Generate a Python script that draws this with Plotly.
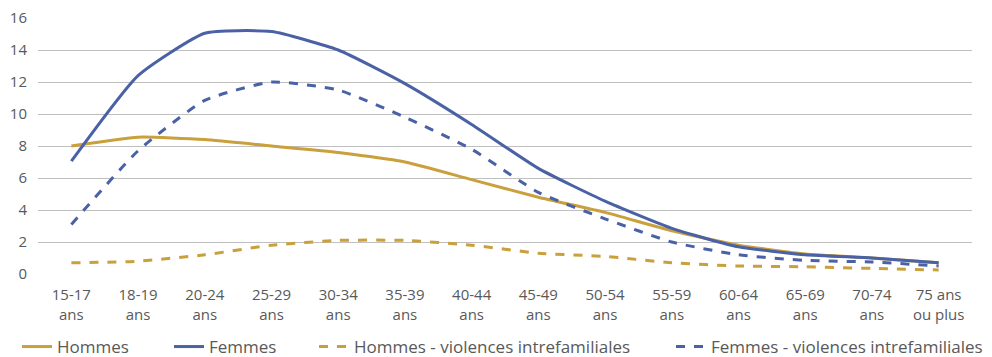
import plotly.graph_objects as go

categories = ["15-17<br>ans", "18-19<br>ans", "20-24<br>ans", "25-29<br>ans", "30-34<br>ans",
              "35-39<br>ans", "40-44<br>ans", "45-49<br>ans", "50-54<br>ans", "55-59<br>ans",
              "60-64<br>ans", "65-69<br>ans", "70-74<br>ans", "75 ans<br>ou plus"]

hommes = [8.0, 8.55, 8.4, 8.0, 7.6, 7.0, 5.9, 4.8, 3.85, 2.7, 1.8, 1.25, 1.0, 0.7]
femmes = [7.05, 12.4, 15.05, 15.15, 14.0, 11.9, 9.35, 6.6, 4.55, 2.85, 1.7, 1.2, 1.0, 0.7]
hommes_vi = [0.7, 0.8, 1.2, 1.8, 2.1, 2.1, 1.8, 1.3, 1.1, 0.7, 0.5, 0.45, 0.35, 0.25]
femmes_vi = [3.1, 7.7, 10.85, 12.0, 11.5, 9.8, 7.8, 5.1, 3.45, 2.0, 1.2, 0.85, 0.75, 0.5]

GOLD = "#C9A03C"
BLUE = "#4A62A5"

series = [
    ("Hommes", hommes, GOLD, "solid", "legend"),
    ("Femmes", femmes, BLUE, "solid", "legend2"),
    ("Hommes - violences intrefamiliales", hommes_vi, GOLD, "dash", "legend3"),
    ("Femmes - violences intrefamiliales", femmes_vi, BLUE, "dash", "legend4"),
]

fig = go.Figure()
for name, vals, color, dash, leg in series:
    fig.add_trace(go.Scatter(
        x=categories, y=vals, name=name, mode="lines", legend=leg,
        line=dict(color=color, width=3, dash=dash, shape="spline", smoothing=0.5),
    ))

W, H = 984, 349
legend_x = [9, 161, 306, 663]
legend_common = dict(orientation="h", xref="container", yref="container",
                     xanchor="left", y=10 / H, yanchor="middle",
                     font=dict(size=17, color="#595959"), bgcolor="rgba(0,0,0,0)")

fig.update_layout(
    width=W, height=H,
    margin=dict(l=30, r=20, t=10, b=83),
    plot_bgcolor="white", paper_bgcolor="white",
    font=dict(family="Open Sans", size=15, color="#595959"),
    showlegend=True,
    legend=dict(x=legend_x[0] / W, **legend_common),
    legend2=dict(x=legend_x[1] / W, **legend_common),
    legend3=dict(x=legend_x[2] / W, **legend_common),
    legend4=dict(x=legend_x[3] / W, **legend_common),
    xaxis=dict(showgrid=False, showline=False, ticks="", tickfont=dict(size=15),
               range=[-0.5, 13.5], ticklabelstandoff=10, ticklabeloverflow="allow",
               automargin=False),
    yaxis=dict(range=[0, 16], dtick=2, showgrid=True, gridcolor="#C0C0C0", gridwidth=1,
               zeroline=False, showline=False, ticks="", tickfont=dict(size=15),
               ticklabelstandoff=10, ticklabeloverflow="allow", automargin=False),
)

fig.write_html("out.html")
